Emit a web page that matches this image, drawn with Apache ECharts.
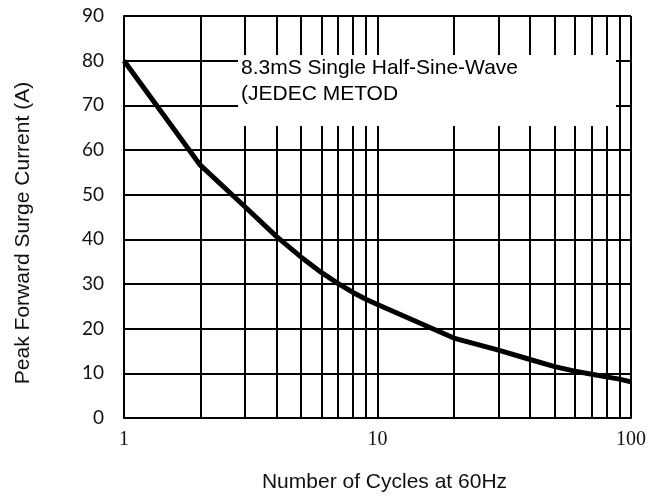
<!DOCTYPE html>
<html>
<head>
<meta charset="utf-8">
<script src="https://cdn.jsdelivr.net/npm/echarts@6/dist/echarts.min.js"></script>
<style>
html,body{margin:0;padding:0;background:#fff;}
#chart{width:664px;height:497px;}
</style>
</head>
<body>
<div id="chart"></div>
<script>
// Data
var cycles = [1, 2, 3, 4, 5, 6, 7, 8, 9, 10, 20, 30, 40, 50, 60, 70, 80, 90, 100];
var surgeCurrent = [80, 56.6, 47.3, 40.6, 36, 32.6, 30.1, 28.1, 26.6, 25.4, 17.9, 15.2, 13.1, 11.5, 10.5, 9.8, 9.2, 8.7, 8.1];
var minorGridX = [2, 3, 4, 5, 6, 7, 8, 9, 20, 30, 40, 50, 60, 70, 80, 90];
var yTicks = [0, 10, 20, 30, 40, 50, 60, 70, 80, 90];
var xAxisTitle = 'Number of Cycles at 60Hz';
var yAxisTitle = 'Peak Forward Surge Current (A)';
var noteLines = ['8.3mS Single Half-Sine-Wave', '(JEDEC METOD'];

var chart = echarts.init(document.getElementById('chart'));
var pts = cycles.map(function (c, i) { return [c, surgeCurrent[i]]; });

chart.setOption({
  animation: false,
  backgroundColor: '#fff',
  grid: { left: 124, right: 33, top: 16, bottom: 79, containLabel: false },
  xAxis: {
    type: 'log', logBase: 10, min: 1, max: 100,
    axisLine: { show: true, lineStyle: { color: '#000', width: 2 } },
    axisTick: { show: false },
    axisLabel: { color: '#111', fontFamily: 'Liberation Serif', fontSize: 20, margin: 12 },
    splitLine: { show: true, lineStyle: { color: '#000', width: 2 } },
    minorTick: { show: false }, minorSplitLine: { show: false }
  },
  yAxis: {
    type: 'value', min: yTicks[0], max: yTicks[yTicks.length - 1], interval: 10,
    axisLine: { show: true, lineStyle: { color: '#000', width: 2 } },
    axisTick: { show: false },
    axisLabel: { color: '#111', fontFamily: 'Lato', fontSize: 19, margin: 20 },
    splitLine: { show: true, lineStyle: { color: '#000', width: 2 } }
  },
  series: [{
    type: 'line',
    data: pts,
    symbol: 'none',
    smooth: false,
    lineStyle: { color: '#000', width: 5 },
    z: 5,
    markLine: {
      silent: true,
      symbol: ['none', 'none'],
      label: { show: false },
      lineStyle: { color: '#000', width: 2, type: 'solid' },
      data: minorGridX.map(function (v) { return { xAxis: v }; })
    }
  }],
  graphic: [
    { type: 'rect', z: 100, shape: { x: 238, y: 55, width: 378, height: 71 }, style: { fill: '#fff' } },
    { type: 'text', z: 101, x: 241, y: 55,
      style: { text: noteLines.join('\n'), font: '21px "Liberation Sans", Arial, sans-serif', lineHeight: 26, fill: '#000', textVerticalAlign: 'top' } },
    { type: 'text', z: 101, x: 384.5, y: 482,
      style: { text: xAxisTitle, font: '21px "Liberation Sans", Arial, sans-serif', fill: '#111', textAlign: 'center', textVerticalAlign: 'middle' } },
    { type: 'text', z: 101, x: 23, y: 233, rotation: Math.PI / 2,
      style: { text: yAxisTitle, font: '21px "Liberation Sans", Arial, sans-serif', fill: '#111', textAlign: 'center', textVerticalAlign: 'middle' } }
  ]
});
</script>
</body>
</html>
